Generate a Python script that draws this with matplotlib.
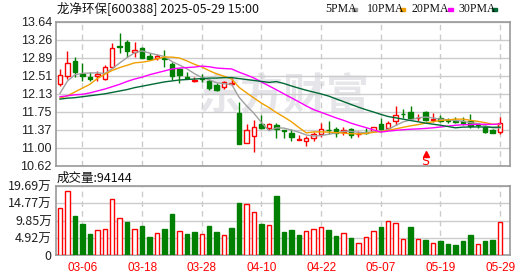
import matplotlib.pyplot as plt
import numpy as np
import pandas as pd

plt.rcParams['font.family'] = ['Noto Sans CJK SC', 'DejaVu Sans']

dates = ['03-03', '03-04', '03-05', '03-06', '03-07', '03-10', '03-11', '03-12', '03-13', '03-14',
         '03-17', '03-18', '03-19', '03-20', '03-21', '03-24', '03-25', '03-26', '03-27', '03-28',
         '03-31', '04-01', '04-02', '04-03', '04-07', '04-08', '04-09', '04-10', '04-11', '04-14',
         '04-15', '04-16', '04-17', '04-18', '04-21', '04-22', '04-23', '04-24', '04-25', '04-28',
         '04-29', '04-30', '05-06', '05-07', '05-08', '05-09', '05-12', '05-13', '05-14', '05-15',
         '05-16', '05-19', '05-20', '05-21', '05-22', '05-23', '05-26', '05-27', '05-28', '05-29']

opens = [12.33, 12.51, 12.82, 12.54, 12.49, 12.51, 12.45, 12.70, 13.13, 13.22,
         13.01, 13.10, 12.93, 12.88, 12.87, 12.75, 12.65, 12.49, 12.40, 12.47,
         12.40, 12.31, 12.27, 12.33, 11.72, 11.11, 11.25, 11.50, 11.41, 11.48,
         11.37, 11.32, 11.17, 11.14, 11.21, 11.30, 11.38, 11.39, 11.34, 11.39,
         11.29, 11.34, 11.35, 11.50, 11.41, 11.56, 11.71, 11.74, 11.62, 11.74,
         11.58, 11.63, 11.58, 11.57, 11.56, 11.56, 11.50, 11.43, 11.37, 11.34]
closes = [12.52, 12.77, 12.58, 12.51, 12.45, 12.54, 12.70, 13.08, 13.11, 13.02,
          13.04, 12.89, 12.86, 12.92, 12.85, 12.51, 12.53, 12.47, 12.41, 12.45,
          12.26, 12.22, 12.37, 12.35, 11.09, 11.37, 11.43, 11.41, 11.49, 11.39,
          11.35, 11.23, 11.18, 11.20, 11.28, 11.39, 11.37, 11.31, 11.38, 11.27,
          11.30, 11.32, 11.43, 11.39, 11.51, 11.69, 11.70, 11.62, 11.63, 11.58,
          11.60, 11.57, 11.56, 11.55, 11.51, 11.45, 11.47, 11.34, 11.32, 11.51]
highs = [12.65, 13.03, 12.90, 12.77, 12.58, 12.61, 12.73, 13.20, 13.40, 13.25,
         13.22, 13.12, 12.98, 12.96, 13.05, 12.80, 12.68, 12.59, 12.49, 12.54,
         12.44, 12.35, 12.40, 12.47, 11.95, 11.49, 11.58, 11.69, 11.53, 11.51,
         11.38, 11.39, 11.27, 11.25, 11.34, 11.53, 11.56, 11.44, 11.43, 11.41,
         11.35, 11.42, 11.44, 11.62, 11.56, 11.88, 11.81, 11.88, 11.70, 11.77,
         11.72, 11.69, 11.63, 11.64, 11.65, 11.71, 11.51, 11.45, 11.39, 11.65]
lows = [12.30, 12.45, 12.48, 12.40, 12.40, 12.40, 12.42, 12.68, 12.99, 12.91,
        12.91, 12.87, 12.83, 12.84, 12.70, 12.42, 12.36, 12.45, 12.38, 12.38,
        12.21, 12.19, 12.23, 12.31, 11.09, 11.11, 10.91, 11.39, 11.37, 11.20,
        11.21, 11.14, 11.16, 11.04, 11.14, 11.23, 11.30, 11.23, 11.27, 11.21,
        11.23, 11.29, 11.34, 11.34, 11.37, 11.48, 11.63, 11.60, 11.56, 11.56,
        11.55, 11.55, 11.51, 11.53, 11.48, 11.42, 11.41, 11.32, 11.31, 11.29]
# volume in 万 shares
volumes = [13.3, 18.3, 11.1, 8.85, 6.0, 7.1, 7.4, 16.0, 10.5, 9.4,
           7.4, 8.3, 5.1, 6.2, 7.4, 11.7, 6.8, 6.0, 6.6, 6.0,
           8.3, 6.6, 5.6, 7.7, 14.8, 14.5, 12.2, 8.85, 8.5, 16.8,
           6.6, 7.1, 5.7, 6.8, 7.4, 7.9, 7.1, 5.4, 6.2, 4.85,
           3.3, 5.0, 6.8, 8.0, 9.6, 9.0, 4.6, 8.0, 4.6, 4.3,
           3.3, 4.0, 3.1, 2.85, 4.0, 5.7, 3.0, 4.0, 4.3, 9.4144]

# MA values at the start of the window (history not shown)
ma5_head = [12.14, 12.40, 12.53, 12.56]
ma10_head = [12.04, 12.09, 12.17, 12.25, 12.33, 12.45, 12.54, 12.62, 12.68]
ma20_head = [12.07, 12.09, 12.11, 12.12, 12.15, 12.19, 12.23, 12.28, 12.33, 12.39,
             12.44, 12.48, 12.53, 12.57, 12.61, 12.65, 12.67, 12.68, 12.69]
ma30_head = [12.02, 12.04, 12.05, 12.07, 12.09, 12.11, 12.13, 12.16, 12.19, 12.22,
             12.26, 12.29, 12.32, 12.35, 12.38, 12.40, 12.42, 12.43, 12.44, 12.45,
             12.46, 12.46, 12.47, 12.47, 12.45, 12.43, 12.41, 12.39, 12.37]

price_labels = ['10.62', '11.00', '11.37', '11.75', '12.13', '12.51', '12.89', '13.26', '13.64']
vol_labels = ['0', '4.92万', '9.85万', '14.77万', '19.69万']
tick_days = ['03-06', '03-18', '03-28', '04-10', '04-22', '05-07', '05-19', '05-29']
signal_day = '05-15'

RED = '#ff0000'
GREEN = '#008000'
GRID = '#cccccc'
EDGE = '#999999'

x = np.arange(len(dates))
o = np.array(opens); c = np.array(closes); h = np.array(highs); l = np.array(lows)
up = c >= o
prev = np.r_[o[0], c[:-1]]
vol_up = c >= prev

close_s = pd.Series(closes)
mas = {}
for n, head in [(5, ma5_head), (10, ma10_head), (20, ma20_head), (30, ma30_head)]:
    m = close_s.rolling(n).mean().values
    m[:n - 1] = head
    mas[n] = m
ma_colors = {5: '#a0a0a0', 10: '#f0a000', 20: '#ff00ff', 30: '#006a35'}

fig = plt.figure(figsize=(5.3, 2.76), dpi=100)
W, H = 530, 276
ax = fig.add_axes([56 / W, 1 - 166 / H, 454 / W, 144.3 / H])
axv = fig.add_axes([56 / W, 1 - 255 / H, 454 / W, 69 / H])

tick_idx = [dates.index(d) for d in tick_days]
xlim = (-0.54, 60.32)

for a in (ax, axv):
    a.set_xlim(*xlim)
    a.set_xticks(tick_idx)
    a.grid(axis='y', color=GRID, lw=1, ls='-', zorder=0)
    a.grid(axis='x', color=GRID, lw=1, ls=(0, (4, 3)), zorder=0)
    a.tick_params(length=0)
    for s in a.spines.values():
        s.set_color(EDGE)
        s.set_linewidth(1.2)
    a.set_axisbelow(True)

# watermark
ax.text(0.5, 0.48, '东方财富', transform=ax.transAxes, ha='center', va='center',
        fontsize=31, fontweight='bold', color='#e6e6ea', zorder=0.5)

# candles
bw = 0.6
ax.vlines(x, l, h, colors=np.where(up, RED, GREEN), lw=1, zorder=2)
body_h = np.maximum(np.abs(c - o), 0.006)
ax.bar(x[up], body_h[up], bottom=np.minimum(o, c)[up], width=bw,
       facecolor='white', edgecolor=RED, lw=1, zorder=3)
ax.bar(x[~up], body_h[~up], bottom=np.minimum(o, c)[~up], width=bw,
       facecolor=GREEN, edgecolor=GREEN, lw=1, zorder=3)

for n in (5, 10, 20, 30):
    ax.plot(x, mas[n], color=ma_colors[n], lw=1, zorder=4)

ax.set_ylim(10.62, 13.64)
ax.set_yticks(np.linspace(10.62, 13.64, 9))
ax.set_yticklabels(price_labels, fontsize=9, family='Liberation Sans', color='#222222')
ax.tick_params(axis='y', pad=3)
ax.set_xticklabels([])

# signal mark
si = dates.index(signal_day)
ax.plot([si], [10.88], marker='^', color=RED, ms=4, zorder=5)
ax.text(si, 10.72, 'S', color=RED, ha='center', va='center', fontsize=9,
        family='DejaVu Sans', zorder=5)

# volume bars
axv.bar(x[vol_up], np.array(volumes)[vol_up], width=bw, facecolor='white',
        edgecolor=RED, lw=1, zorder=3)
axv.bar(x[~vol_up], np.array(volumes)[~vol_up], width=bw, facecolor=GREEN,
        edgecolor=GREEN, lw=1, zorder=3)
axv.set_ylim(0, 19.69)
axv.set_yticks(np.linspace(0, 19.69, 5))
axv.set_yticklabels(vol_labels, fontsize=9, color='#222222')
axv.tick_params(axis='y', pad=3)
axv.set_xticklabels(tick_days, fontsize=8.5, color=RED, family='Liberation Sans')
axv.tick_params(axis='x', pad=5)

# header texts
fig.text(57 / W, 1 - 9 / H, '龙净环保[600388] 2025-05-29 15:00', fontsize=9,
         va='center', ha='left', color='#111111')
fig.text(57 / W, 1 - 178 / H, '成交量:%d' % round(volumes[-1] * 10000), fontsize=9,
         va='center', ha='left', color='#111111')

legend_items = [('5PMA', 325, 352, 5), ('10PMA', 367, 400, 10),
                ('20PMA', 412, 448, 20), ('30PMA', 458, 492, 30)]
for label, tx, sx, n in legend_items:
    fig.text(tx / W, 1 - 9 / H, label, fontsize=8.5, va='center', ha='left',
             family='Liberation Serif', color='#111111')
    fig.patches.append(plt.Rectangle((sx / W, 1 - 11 / H), 5 / W, 3.5 / H,
                                     transform=fig.transFigure, color=ma_colors[n]))

fig.savefig('out.png', dpi=100)
